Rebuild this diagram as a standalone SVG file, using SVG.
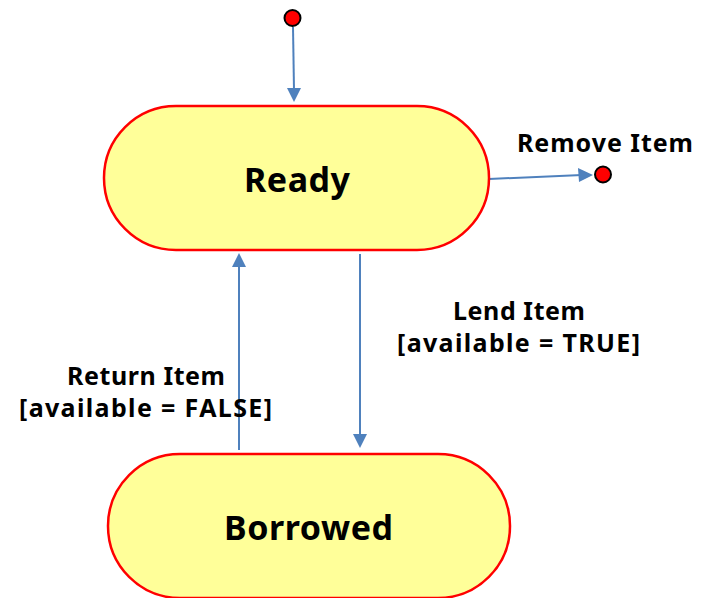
<svg xmlns="http://www.w3.org/2000/svg" width="702" height="598" viewBox="0 0 702 598">
<style>
.state{fill:#FFFF99;stroke:#FF0000;stroke-width:2.5}
.pt{fill:#FF0000;stroke:#000;stroke-width:2}
.big{font-family:"Noto Sans","Liberation Sans",sans-serif;font-weight:bold;font-size:34px;text-anchor:middle;fill:#000}
.lbl{font-family:"Noto Sans","Liberation Sans",sans-serif;font-weight:bold;font-size:25px;text-anchor:middle;fill:#000}
</style>
<rect width="702" height="598" fill="#fff"/>
<g id="connectors">
<line x1="293" y1="27" x2="294" y2="90" stroke="#4F81BD" stroke-width="2"/>
<path d="M287,88 L301,88 L294,102 z" fill="#4F81BD"/>
<line x1="489" y1="179" x2="582" y2="175" stroke="#4F81BD" stroke-width="2"/>
<path d="M578,168 L593,175 L579,182 z" fill="#4F81BD"/>
<line x1="360" y1="254" x2="360" y2="436" stroke="#4F81BD" stroke-width="2"/>
<path d="M353,434 L367,434 L360,448 z" fill="#4F81BD"/>
<line x1="239" y1="450" x2="239" y2="266" stroke="#4F81BD" stroke-width="2"/>
<path d="M232,267 L246,267 L239,253 z" fill="#4F81BD"/>
</g>
<g id="start"><circle class="pt" cx="292.5" cy="18" r="8"/></g>
<g id="end"><circle class="pt" cx="603" cy="174.5" r="8"/></g>
<g id="ready">
<rect class="state" x="104" y="106" width="385" height="144" rx="72" ry="72"/>
<text class="big" x="297" y="192" textLength="106">Ready</text>
</g>
<g id="borrowed">
<rect class="state" x="108" y="454" width="402" height="144" rx="72" ry="72"/>
<text class="big" x="308.5" y="540" textLength="169">Borrowed</text>
</g>
<g id="labels">
<text class="lbl" x="605" y="152" textLength="176">Remove Item</text>
<text class="lbl" x="519" y="320" textLength="132">Lend Item</text>
<text class="lbl" x="518.5" y="352" textLength="243">[available = TRUE]</text>
<text class="lbl" x="146" y="385" textLength="158">Return Item</text>
<text class="lbl" x="145.5" y="417" textLength="253">[available = FALSE]</text>
</g>
</svg>
